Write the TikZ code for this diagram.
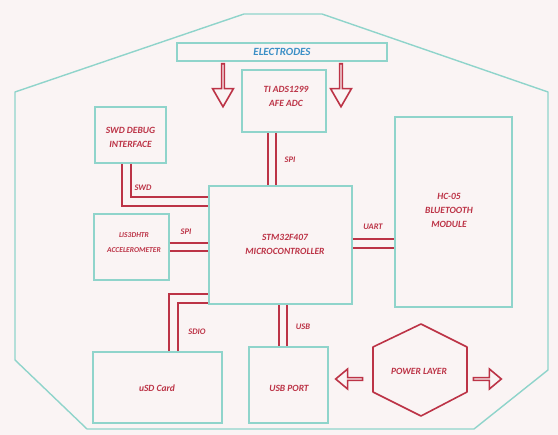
\documentclass[tikz,border=0pt]{standalone}
\usepackage{fontspec}
\setmainfont{Carlito}
\usetikzlibrary{shapes.arrows}
\definecolor{bg}{HTML}{FAF4F4}
\definecolor{teal1}{HTML}{8FD4CB}
\definecolor{red1}{HTML}{BC3346}
\definecolor{blue1}{HTML}{3B8FC6}
\begin{document}
\begin{tikzpicture}[x=1pt,y=-1pt,
 box/.style={draw=teal1,line width=1.6pt,inner sep=0pt},
 txt/.style={text=red1,font=\bfseries\itshape\fontsize{9.5}{14}\selectfont,align=center,inner sep=0pt},
 smalltxt/.style={text=red1,font=\bfseries\itshape\fontsize{7.5}{15}\selectfont,align=center,inner sep=0pt},
 lbl/.style={text=red1,font=\bfseries\itshape\fontsize{8.5}{10}\selectfont,inner sep=0pt},
 dbl/.style={draw=red1,line width=1.8pt,double=bg,double distance=6.5pt},
 blockarrow/.style={single arrow,draw=red1,line width=1.6pt,fill=bg,inner sep=0pt,single arrow tip angle=60},
]
\fill[bg] (0,0) rectangle (558,435);
\useasboundingbox (0,0) rectangle (558,435);
% outer enclosure
\draw[teal1,line width=1.4pt,line join=round] (244,14) -- (322,14) -- (548,92) -- (548,370) -- (474,429) -- (87,429) -- (15,360) -- (15,92) -- cycle;
% electrodes
\node[box,minimum width=210pt,minimum height=18pt] (elec) at (282,52) {};
\node[text=blue1,font=\bfseries\itshape\fontsize{11}{13}\selectfont,inner sep=0pt] (electxt) at (282,52) {ELECTRODES};
\node[blockarrow,minimum height=43pt,minimum width=21pt,single arrow head extend=5pt,rotate=-90] (arrl) at (223,84) {};
\node[blockarrow,minimum height=43pt,minimum width=21pt,single arrow head extend=5pt,rotate=-90] (arrr) at (341,84) {};
% boxes
\node[box,minimum width=84pt,minimum height=62pt] (ads) at (284,101) {};
\node[txt] (adstxt) at (286,96) {TI ADS1299\\AFE ADC};
\node[box,minimum width=71pt,minimum height=56pt] (swd) at (130.5,135) {};
\node[txt] (swdtxt) at (130.5,137.5) {SWD DEBUG\\INTERFACE};
\node[box,minimum width=75pt,minimum height=66pt] (acc) at (131.5,247) {};
\node[smalltxt] (acctxt) at (134,243) {LIS3DHTR\\ACCELEROMETER};
\node[box,minimum width=143pt,minimum height=118pt] (mcu) at (280.5,245) {};
\node[txt] (mcutxt) at (285,244) {STM32F407\\MICROCONTROLLER};
\node[box,minimum width=117pt,minimum height=190pt] (bt) at (453.5,212) {};
\node[txt] (bttxt) at (449,210) {HC-05\\BLUETOOTH\\MODULE};
\node[box,minimum width=129pt,minimum height=71pt] (sd) at (157.5,387.5) {};
\node[txt] (sdtxt) at (157,388) {uSD Card};
\node[box,minimum width=79pt,minimum height=76pt] (usb) at (288.5,385) {};
\node[txt] (usbtxt) at (289,388) {USB PORT};
% power layer
\draw[red1,line width=1.6pt,line join=round] (421,324) -- (467,347) -- (467,392) -- (421,416) -- (373,392) -- (373,347) -- cycle;
\node[txt] (pwr) at (419,371) {POWER LAYER};
\node[blockarrow,minimum height=27pt,minimum width=20pt,single arrow head extend=5pt,single arrow tip angle=80,rotate=180] (parl) at (350,379) {};
\node[blockarrow,minimum height=28pt,minimum width=20pt,single arrow head extend=5pt,single arrow tip angle=80] (parr) at (486.5,379) {};
% helper coordinates
\coordinate (swdy) at (0,201.5);
\coordinate (uarty) at (0,243.5);
\coordinate (sdc) at (173.5,298.5);
\coordinate (usbx) at (283,0);
% connectors
\draw[dbl] ([xshift=-12pt]ads.south) -- ([xshift=-12pt]ads.south |- mcu.north);
\draw[dbl] ([xshift=-4pt]swd.south) |- (mcu.west |- swdy);
\draw[dbl] (acc.east) -- (mcu.west |- acc.east);
\draw[dbl] (mcu.east |- uarty) -- (bt.west |- uarty);
\draw[dbl] (mcu.west |- sdc) -| (sdc |- sd.north);
\draw[dbl] (usbx |- mcu.south) -- (usbx |- usb.north);
% labels
\node[lbl] (lspi1) at (290,160) {SPI};
\node[lbl] (lswd) at (143,188) {SWD};
\node[lbl] (lspi2) at (186,232) {SPI};
\node[lbl] (luart) at (373,227) {UART};
\node[lbl] (lsdio) at (197,332) {SDIO};
\node[lbl] (lusb) at (303,327) {USB};
\end{tikzpicture}
\end{document}
